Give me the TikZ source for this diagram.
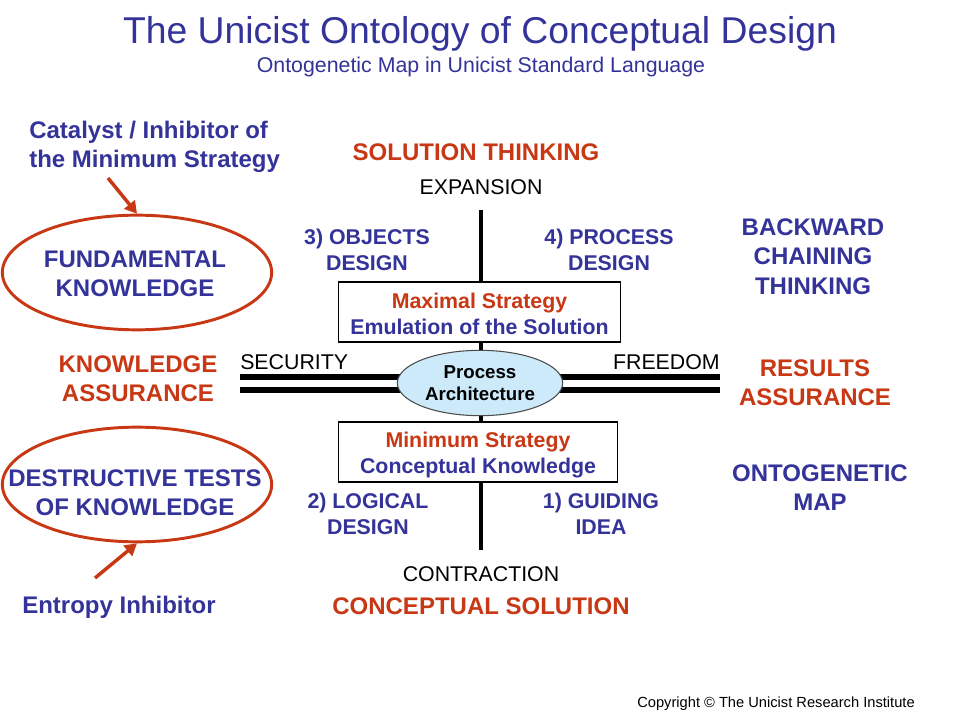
\documentclass[tikz,border=0pt]{standalone}
\usepackage{fontspec}
\setmainfont{Liberation Sans}
\usetikzlibrary{shapes.geometric,arrows.meta}
\definecolor{navy}{RGB}{51,51,153}
\definecolor{rust}{RGB}{200,56,20}
\definecolor{paleblue}{RGB}{204,234,250}
\begin{document}
\begin{tikzpicture}[x=0.75pt,y=-0.75pt,
  big/.style={font=\fontsize{18}{22}\selectfont\bfseries, align=center, inner sep=0pt},
  mid/.style={font=\fontsize{16}{19.5}\selectfont\bfseries, align=center, inner sep=0pt},
  axis/.style={font=\fontsize{16}{19}\selectfont, inner sep=0pt},
  bluetxt/.style={text=navy},
  redtxt/.style={text=rust},
  oval/.style={draw=rust, line width=2.2pt, ellipse, minimum width=202pt, minimum height=86pt, inner sep=0pt},
  stratbox/.style={draw=black, line width=0.8pt, fill=white, minimum width=211pt, minimum height=45pt, inner sep=0pt},
  strattext/.style={inner sep=0pt, align=center, font=\fontsize{16}{19.5}\selectfont\bfseries},
  pointer/.style={draw=rust, line width=2.6pt, -{Triangle[length=9pt,width=10pt]}},
  axisline/.style={line width=2.4pt, black},
  barline/.style={line width=4.6pt, black}
]
\useasboundingbox (0,0) rectangle (960,720);
\fill[white] (0,0) rectangle (960,720);

% title
\node[font=\fontsize{28}{32}\selectfont, text=navy, inner sep=0pt] (title) at (480,34) {The Unicist Ontology of Conceptual Design};
\node[font=\fontsize{16}{19}\selectfont, text=navy, inner sep=0pt] (subtitle) at (481,67) {Ontogenetic Map in Unicist Standard Language};

% axes
\coordinate (vtop) at (481,210);
\coordinate (vbot) at (481,550);
\draw[axisline] (vtop) -- (vbot);

\coordinate (la1) at (240,377);
\coordinate (la2) at (240,390);
\coordinate (ra1) at (720,377);
\coordinate (ra2) at (720,390);
\draw[barline] (la1) -- (ra1);
\draw[barline] (la2) -- (ra2);

% boxes
\node[stratbox] (maxbox) at (479.5,312) {};
\node[strattext] (maxtext) at (479.5,314) {\textcolor{rust}{Maximal Strategy}\\\textcolor{navy}{Emulation of the Solution}};
\node[stratbox, minimum width=209pt] (minbox) at (478,452) {};
\node[strattext] (mintext) at (478,455) {\textcolor{rust}{Minimum Strategy}\\\textcolor{navy}{Conceptual Knowledge}};

% centre ellipse
\node[ellipse, draw=black!70, line width=0.8pt, fill=paleblue, minimum width=124pt, minimum height=49pt, inner sep=0pt, align=center, font=\fontsize{14}{16.5}\selectfont\bfseries] (proc) at (480,383) {Process\\Architecture};

% axis labels
\node[axis, anchor=west] (security) at (240,362) {SECURITY};
\node[axis, anchor=east] (freedom) at (720,362) {FREEDOM};
\node[axis] (expansion) at (481,187) {EXPANSION};
\node[axis] (contraction) at (481,574) {CONTRACTION};

% red titles
\node[big, redtxt] (solthink) at (476,152) {SOLUTION THINKING};
\node[big, redtxt] (concsol) at (481,606) {CONCEPTUAL SOLUTION};
\node[big, redtxt] (knowass) at (138,379) {KNOWLEDGE\\ASSURANCE};
\node[big, redtxt] (resass) at (815,382.5) {RESULTS\\ASSURANCE};

% quadrant labels
\node[mid, bluetxt] (objects) at (367,250) {3) OBJECTS\\DESIGN};
\node[mid, bluetxt] (process) at (609,250) {4) PROCESS\\DESIGN};
\node[mid, bluetxt] (logical) at (368,514) {2) LOGICAL\\DESIGN};
\node[mid, bluetxt] (guiding) at (601,514) {1) GUIDING\\IDEA};

% right labels
\node[big, bluetxt] (backward) at (813,256.5) {BACKWARD\\CHAINING\\THINKING};
\node[big, bluetxt] (ontomap) at (820,487.5) {ONTOGENETIC\\MAP};

% left ovals
\node[oval] (fundoval) at (137,272.5) {};
\node[big, bluetxt] (fund) at (135,274) {FUNDAMENTAL\\KNOWLEDGE};
\node[oval] (destoval) at (137,484.5) {};
\node[big, bluetxt] (dest) at (135,492.5) {DESTRUCTIVE TESTS\\OF KNOWLEDGE};

% annotations
\node[big, bluetxt, align=left, anchor=west] (catalyst) at (29,147) {Catalyst / Inhibitor of\\the Minimum Strategy};
\node[big, bluetxt, anchor=west] (entropy) at (22,607) {Entropy Inhibitor};

\coordinate (a1s) at (108,178);
\coordinate (a2s) at (95,578);
\draw[pointer] (a1s) -- (fundoval.north);
\draw[pointer] (a2s) -- (destoval.south);

% copyright
\node[font=\fontsize{11}{13}\selectfont, inner sep=0pt] (copy) at (776,704) {Copyright \textcopyright{} The Unicist Research Institute};
\end{tikzpicture}
\end{document}
